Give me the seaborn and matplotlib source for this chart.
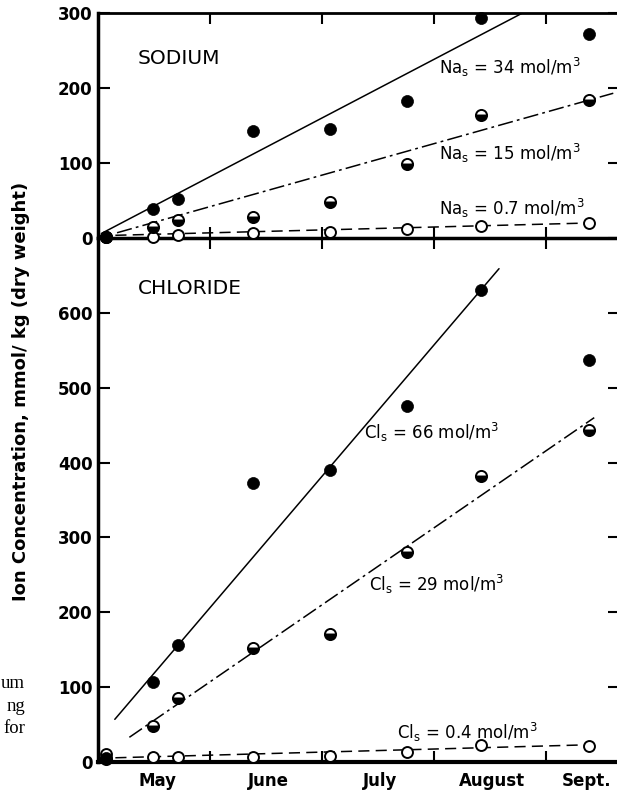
import matplotlib
matplotlib.use("Agg")
import matplotlib.pyplot as plt
import seaborn as sns

# sampling dates, in months counted from 1 May
sample_month = [0.07, 0.49, 0.71, 1.38, 2.07, 2.76, 3.42, 4.38]

# sodium in leaves, mmol/kg dry weight
na_high = [1, 39, 52, 143, 145, 183, 293, 272]
na_mid = [2, 15, 24, 28, 48, 99, 164, 184]
na_low = [1, 2, 4, 7, 8, 12, 16, 20]

# chloride in leaves, mmol/kg dry weight
cl_high = [5, 107, 156, 373, 390, 475, 631, 537]
cl_mid = [4, 48, 86, 152, 171, 281, 382, 443]
cl_low = [11, 7, 7, 7, 8, 13, 23, 22]

# fitted lines (end points)
na34_x, na34_y = [0.03, 3.79], [6, 300]
na15_x, na15_y = [0.17, 4.60], [7, 193]
na07_x, na07_y = [0.00, 4.38], [3, 20]
cl66_x, cl66_y = [0.15, 3.58], [57, 659]
cl29_x, cl29_y = [0.28, 4.43], [33, 460]
cl04_x, cl04_y = [0.00, 4.38], [5, 23]

month_names = ["May", "June", "July", "August", "Sept."]
month_label_pos = [0.53, 1.52, 2.52, 3.52, 4.36]
month_edges = [1, 2, 3, 4]

sns.set_style("ticks")
plt.rcParams["font.family"] = ["DejaVu Sans"]
plt.rcParams["mathtext.fontset"] = "dejavusans"
plt.rcParams["lines.scale_dashes"] = False
for key in ["axes.edgecolor", "text.color", "xtick.color", "ytick.color",
            "axes.labelcolor"]:
    plt.rcParams[key] = "black"

fig = plt.figure(figsize=(6.17, 7.91), dpi=100)
W, H = 617, 791
ax_na = fig.add_axes([98 / W, 553 / H, 522 / W, 225 / H])
ax_cl = fig.add_axes([98 / W, 29 / H, 522 / W, 524 / H])
ax_na.patch.set_visible(False)
ax_cl.patch.set_visible(False)

dashdot = (0, (11, 3, 2, 3))
dashed = (0, (8, 4.5))


def draw_panel(ax, high, mid, low, fits):
    for (fx, fy), ls in zip(fits, ["-", dashdot, dashed]):
        sns.lineplot(x=fx, y=fy, ax=ax, color="black", linewidth=1.1,
                     linestyle=ls, sort=False)
    sns.scatterplot(x=sample_month, y=low, ax=ax, s=62, color="white",
                    edgecolor="black", linewidth=1.4, zorder=3, clip_on=False)
    sns.lineplot(x=sample_month, y=mid, ax=ax, linestyle="", marker="o",
                 markersize=8, color="black", markerfacecolor="black",
                 markerfacecoloralt="white", fillstyle="bottom",
                 markeredgecolor="black", markeredgewidth=1.4, zorder=4,
                 clip_on=False)
    sns.scatterplot(x=sample_month, y=high, ax=ax, s=75, color="black",
                    edgecolor="black", linewidth=0.5, zorder=5, clip_on=False)
    ax.set_xlim(0, 4.66)
    ax.set_xlabel("")
    ax.set_ylabel("")


draw_panel(ax_na, na_high, na_mid, na_low,
           [(na34_x, na34_y), (na15_x, na15_y), (na07_x, na07_y)])
draw_panel(ax_cl, cl_high, cl_mid, cl_low,
           [(cl66_x, cl66_y), (cl29_x, cl29_y), (cl04_x, cl04_y)])

ax_na.set_ylim(0, 300)
ax_cl.set_ylim(0, 700)
ax_na.set_yticks([0, 100, 200, 300])
ax_cl.set_yticks([0, 100, 200, 300, 400, 500, 600])

for ax in (ax_na, ax_cl):
    ax.set_xticks(month_edges)
    ax.tick_params(axis="x", which="major", top=True, bottom=True,
                   direction="in", length=8, width=1.5, labelbottom=False)
    ax.tick_params(axis="y", left=True, right=True, direction="in",
                   length=8.5, width=1.5, labelsize=12, pad=4)
    for lab in ax.get_yticklabels():
        lab.set_fontweight("bold")
    ax.spines["left"].set_linewidth(2.5)
    ax.spines["right"].set_linewidth(1.5)

ax_na.spines["top"].set_linewidth(2)
ax_na.spines["bottom"].set_linewidth(2.5)
ax_cl.spines["top"].set_visible(False)
ax_cl.spines["bottom"].set_linewidth(3)

ax_cl.set_xticks(month_label_pos, minor=True)
ax_cl.set_xticklabels(month_names, minor=True, fontsize=12, fontweight="bold")
ax_cl.tick_params(axis="x", which="minor", length=0, pad=7, bottom=True)

# panel titles and line labels
ax_na.text(0.35, 240, "SODIUM", fontsize=14.5, va="center", ha="left")
ax_cl.text(0.36, 632, "CHLORIDE", fontsize=14.5, va="center", ha="left")

lab_kw = dict(fontsize=12, va="center", ha="left")
ax_na.text(3.04, 228, r"Na$_\mathregular{s}$ = 34 mol/m$^\mathregular{3}$", **lab_kw)
ax_na.text(3.04, 113, r"Na$_\mathregular{s}$ = 15 mol/m$^\mathregular{3}$", **lab_kw)
ax_na.text(3.04, 40, r"Na$_\mathregular{s}$ = 0.7 mol/m$^\mathregular{3}$", **lab_kw)
ax_cl.text(2.375, 440, r"Cl$_\mathregular{s}$ = 66 mol/m$^\mathregular{3}$", **lab_kw)
ax_cl.text(2.42, 237, r"Cl$_\mathregular{s}$ = 29 mol/m$^\mathregular{3}$", **lab_kw)
ax_cl.text(2.67, 39, r"Cl$_\mathregular{s}$ = 0.4 mol/m$^\mathregular{3}$", **lab_kw)

fig.text(21 / W, 1 - 391 / H, "Ion Concentration, mmol/ kg (dry weight)",
         rotation=90, ha="center", va="center", fontsize=13,
         fontweight="bold")

# fragments of the page caption cut off at the left edge
for txt, yb in [("um", 688), ("ng", 711), ("for", 733)]:
    fig.text(25 / W, 1 - yb / H, txt, ha="right", va="baseline",
             fontsize=13.5, family="Liberation Serif")

fig.savefig("out.png", dpi=100)
